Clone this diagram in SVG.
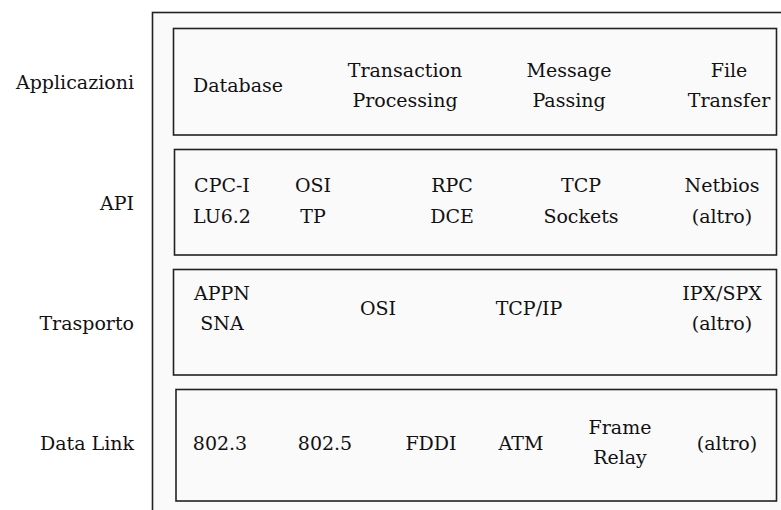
<svg xmlns="http://www.w3.org/2000/svg" width="781" height="510" viewBox="0 0 781 510">
<style>
.frame{fill:#fafafa;stroke:#222;stroke-width:1.6}
.box{fill:#fafafa;stroke:#222;stroke-width:1.6}
text{font-family:'DejaVu Serif','Liberation Serif',serif;font-size:19px;fill:#111}
.c{text-anchor:middle}
.r{text-anchor:end}
</style>
<rect width="781" height="510" fill="#ffffff"/>
<g id="frame"><rect class="frame" x="152.5" y="12.5" width="700" height="600"/></g>
<g id="labels">
<text class="r" x="134" y="89">Applicazioni</text>
<text class="r" x="134" y="210">API</text>
<text class="r" x="134" y="330">Trasporto</text>
<text class="r" x="134" y="450">Data Link</text>
</g>
<g id="applicazioni">
<rect class="box" x="173.5" y="28.5" width="603" height="106.5"/>
<text class="c" x="238" y="92">Database</text>
<text class="c" x="405" y="77">Transaction</text>
<text class="c" x="405" y="107">Processing</text>
<text class="c" x="569" y="77">Message</text>
<text class="c" x="569" y="107">Passing</text>
<text class="c" x="729" y="77">File</text>
<text class="c" x="729" y="107">Transfer</text>
</g>
<g id="api">
<rect class="box" x="174.5" y="149.5" width="602" height="105.5"/>
<text class="c" x="222" y="192">CPC-I</text>
<text class="c" x="222" y="223">LU6.2</text>
<text class="c" x="313" y="192">OSI</text>
<text class="c" x="313" y="223">TP</text>
<text class="c" x="452" y="192">RPC</text>
<text class="c" x="452" y="223">DCE</text>
<text class="c" x="581" y="192">TCP</text>
<text class="c" x="581" y="223">Sockets</text>
<text class="c" x="722" y="192">Netbios</text>
<text class="c" x="722" y="223">(altro)</text>
</g>
<g id="trasporto">
<rect class="box" x="173.5" y="269.5" width="603" height="105.5"/>
<text class="c" x="222" y="300">APPN</text>
<text class="c" x="222" y="330">SNA</text>
<text class="c" x="378" y="315">OSI</text>
<text class="c" x="529" y="315">TCP/IP</text>
<text class="c" x="722" y="300">IPX/SPX</text>
<text class="c" x="722" y="330">(altro)</text>
</g>
<g id="datalink">
<rect class="box" x="176" y="389.5" width="600.5" height="111.5"/>
<text class="c" x="220" y="450">802.3</text>
<text class="c" x="325" y="450">802.5</text>
<text class="c" x="431" y="450">FDDI</text>
<text class="c" x="521" y="450">ATM</text>
<text class="c" x="620" y="434">Frame</text>
<text class="c" x="620" y="464">Relay</text>
<text class="c" x="727" y="450">(altro)</text>
</g>
</svg>
